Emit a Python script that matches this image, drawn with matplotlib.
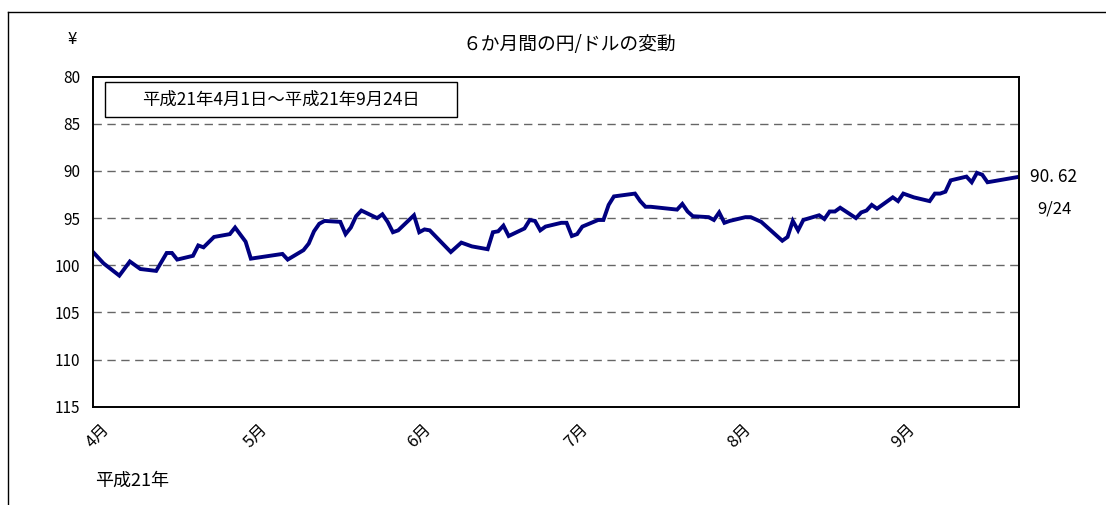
import numpy as np
import pandas as pd
import matplotlib
matplotlib.use("Agg")
import matplotlib.pyplot as plt
import matplotlib.transforms as mtransforms
from matplotlib.patches import Rectangle

plt.rcParams['font.family'] = ['Noto Sans CJK JP', 'DejaVu Sans']

# yen per dollar, Heisei 21 (2009)
dates = [
    "04-01", "04-03", "04-06", "04-08", "04-10", "04-13", "04-15", "04-16", "04-17",
    "04-20", "04-21", "04-22", "04-24", "04-27", "04-28", "04-30", "05-01",
    "05-07", "05-08", "05-11", "05-12", "05-13", "05-14", "05-15", "05-18", "05-19",
    "05-20", "05-21", "05-22", "05-25", "05-26", "05-27", "05-28", "05-29",
    "06-01", "06-02", "06-03", "06-04", "06-08", "06-10", "06-12", "06-15", "06-16",
    "06-17", "06-18", "06-19", "06-22", "06-23", "06-24", "06-25", "06-26", "06-29",
    "06-30", "07-01", "07-02", "07-03", "07-06", "07-07", "07-08", "07-09", "07-13",
    "07-14", "07-15", "07-16", "07-21", "07-22", "07-23", "07-24", "07-27", "07-28",
    "07-29", "07-30", "07-31", "08-03", "08-04", "08-06", "08-10", "08-11", "08-12",
    "08-13", "08-14", "08-17", "08-18", "08-19", "08-20", "08-21", "08-24", "08-25",
    "08-26", "08-27", "08-28", "08-31", "09-01", "09-02", "09-03", "09-04", "09-07",
    "09-08", "09-09", "09-10", "09-11", "09-14", "09-15", "09-16", "09-17", "09-18",
    "09-24",
]
rates = [
    98.6, 99.8, 101.1, 99.6, 100.4, 100.6, 98.7, 98.7, 99.4,
    99.0, 97.9, 98.1, 97.0, 96.7, 96.0, 97.5, 99.3,
    98.8, 99.4, 98.4, 97.7, 96.4, 95.6, 95.3, 95.4, 96.7,
    96.0, 94.8, 94.2, 95.0, 94.6, 95.4, 96.5, 96.3,
    94.7, 96.5, 96.2, 96.3, 98.6, 97.6, 98.0, 98.3, 96.5,
    96.4, 95.8, 96.9, 96.1, 95.2, 95.3, 96.3, 95.9, 95.5,
    95.5, 96.9, 96.7, 95.9, 95.2, 95.2, 93.6, 92.7, 92.4,
    93.2, 93.8, 93.8, 94.1, 93.5, 94.3, 94.8, 94.9, 95.2,
    94.4, 95.5, 95.3, 94.9, 94.9, 95.4, 97.4, 97.0, 95.3,
    96.3, 95.2, 94.7, 95.1, 94.3, 94.3, 93.9, 95.0, 94.4,
    94.2, 93.6, 94.0, 92.8, 93.2, 92.4, 92.6, 92.8, 93.2,
    92.4, 92.4, 92.2, 91.0, 90.6, 91.2, 90.2, 90.4, 91.2,
    90.62,
]
month_labels = ["4月", "5月", "6月", "7月", "8月", "9月"]
month_starts = ["2009-04-01", "2009-05-01", "2009-06-01",
                "2009-07-01", "2009-08-01", "2009-09-01"]
yticks = [80, 85, 90, 95, 100, 105, 110, 115]

x = pd.to_datetime(["2009-" + d for d in dates])
ticks = pd.to_datetime(month_starts)

fig = plt.figure(figsize=(11.06, 5.05), dpi=100)
ax = fig.add_axes([0.0841, 0.1947, 0.8373, 0.6535])

ax.plot(x, rates, color="#000080", lw=2.8, solid_joinstyle="miter")

ax.set_xlim(x[0], x[-1])
ax.set_ylim(115, 80)
ax.set_yticks(yticks)
ax.set_yticklabels([str(v) for v in yticks], fontsize=11)
ax.set_xticks(ticks)
ax.set_xticklabels(month_labels, rotation=45, ha="center", fontsize=12)
ax.tick_params(length=0)
ax.tick_params(axis="y", pad=9)
ax.tick_params(axis="x", pad=10)
# nudge the slanted month labels a little to the right
shift = mtransforms.ScaledTranslation(5 / 100, 0, fig.dpi_scale_trans)
for lab in ax.get_xticklabels():
    lab.set_transform(lab.get_transform() + shift)

for v in yticks[1:-1]:
    ax.axhline(v, color="#666666", lw=1.0, ls=(0, (6, 4)), zorder=0)

for s in ax.spines.values():
    s.set_linewidth(1.4)
    s.set_color("black")

# date range box
ax.text(0.203, 0.931, "平成21年4月1日～平成21年9月24日", transform=ax.transAxes,
        fontsize=12.5, ha="center", va="center")
ax.add_patch(Rectangle((0.013, 0.878), 0.380, 0.106, transform=ax.transAxes,
                       fill=False, lw=1.0, ec="black"))

# last value note
ax.text(1.012, 90.62, "90. 62", transform=ax.get_yaxis_transform(),
        fontsize=12.5, ha="left", va="center", clip_on=False)
ax.text(1.02, 94.0, "9/24", transform=ax.get_yaxis_transform(),
        fontsize=12, ha="left", va="center", clip_on=False)

fig.text(0.065, 0.921, "¥", fontsize=12, ha="center", va="center")
fig.text(0.515, 0.911, "６か月間の円/ドルの変動", fontsize=13.5, ha="center", va="center")
fig.text(0.086, 0.049, "平成21年", fontsize=13, ha="left", va="center")

# outer frame (cut off at the right and bottom)
fig.add_artist(plt.Line2D([0.0075, 1.0], [0.976, 0.976], color="black", lw=1.0,
                          transform=fig.transFigure))
fig.add_artist(plt.Line2D([0.0075, 0.0075], [0.0, 0.976], color="black", lw=1.0,
                          transform=fig.transFigure))

fig.savefig("out.png", dpi=100)
